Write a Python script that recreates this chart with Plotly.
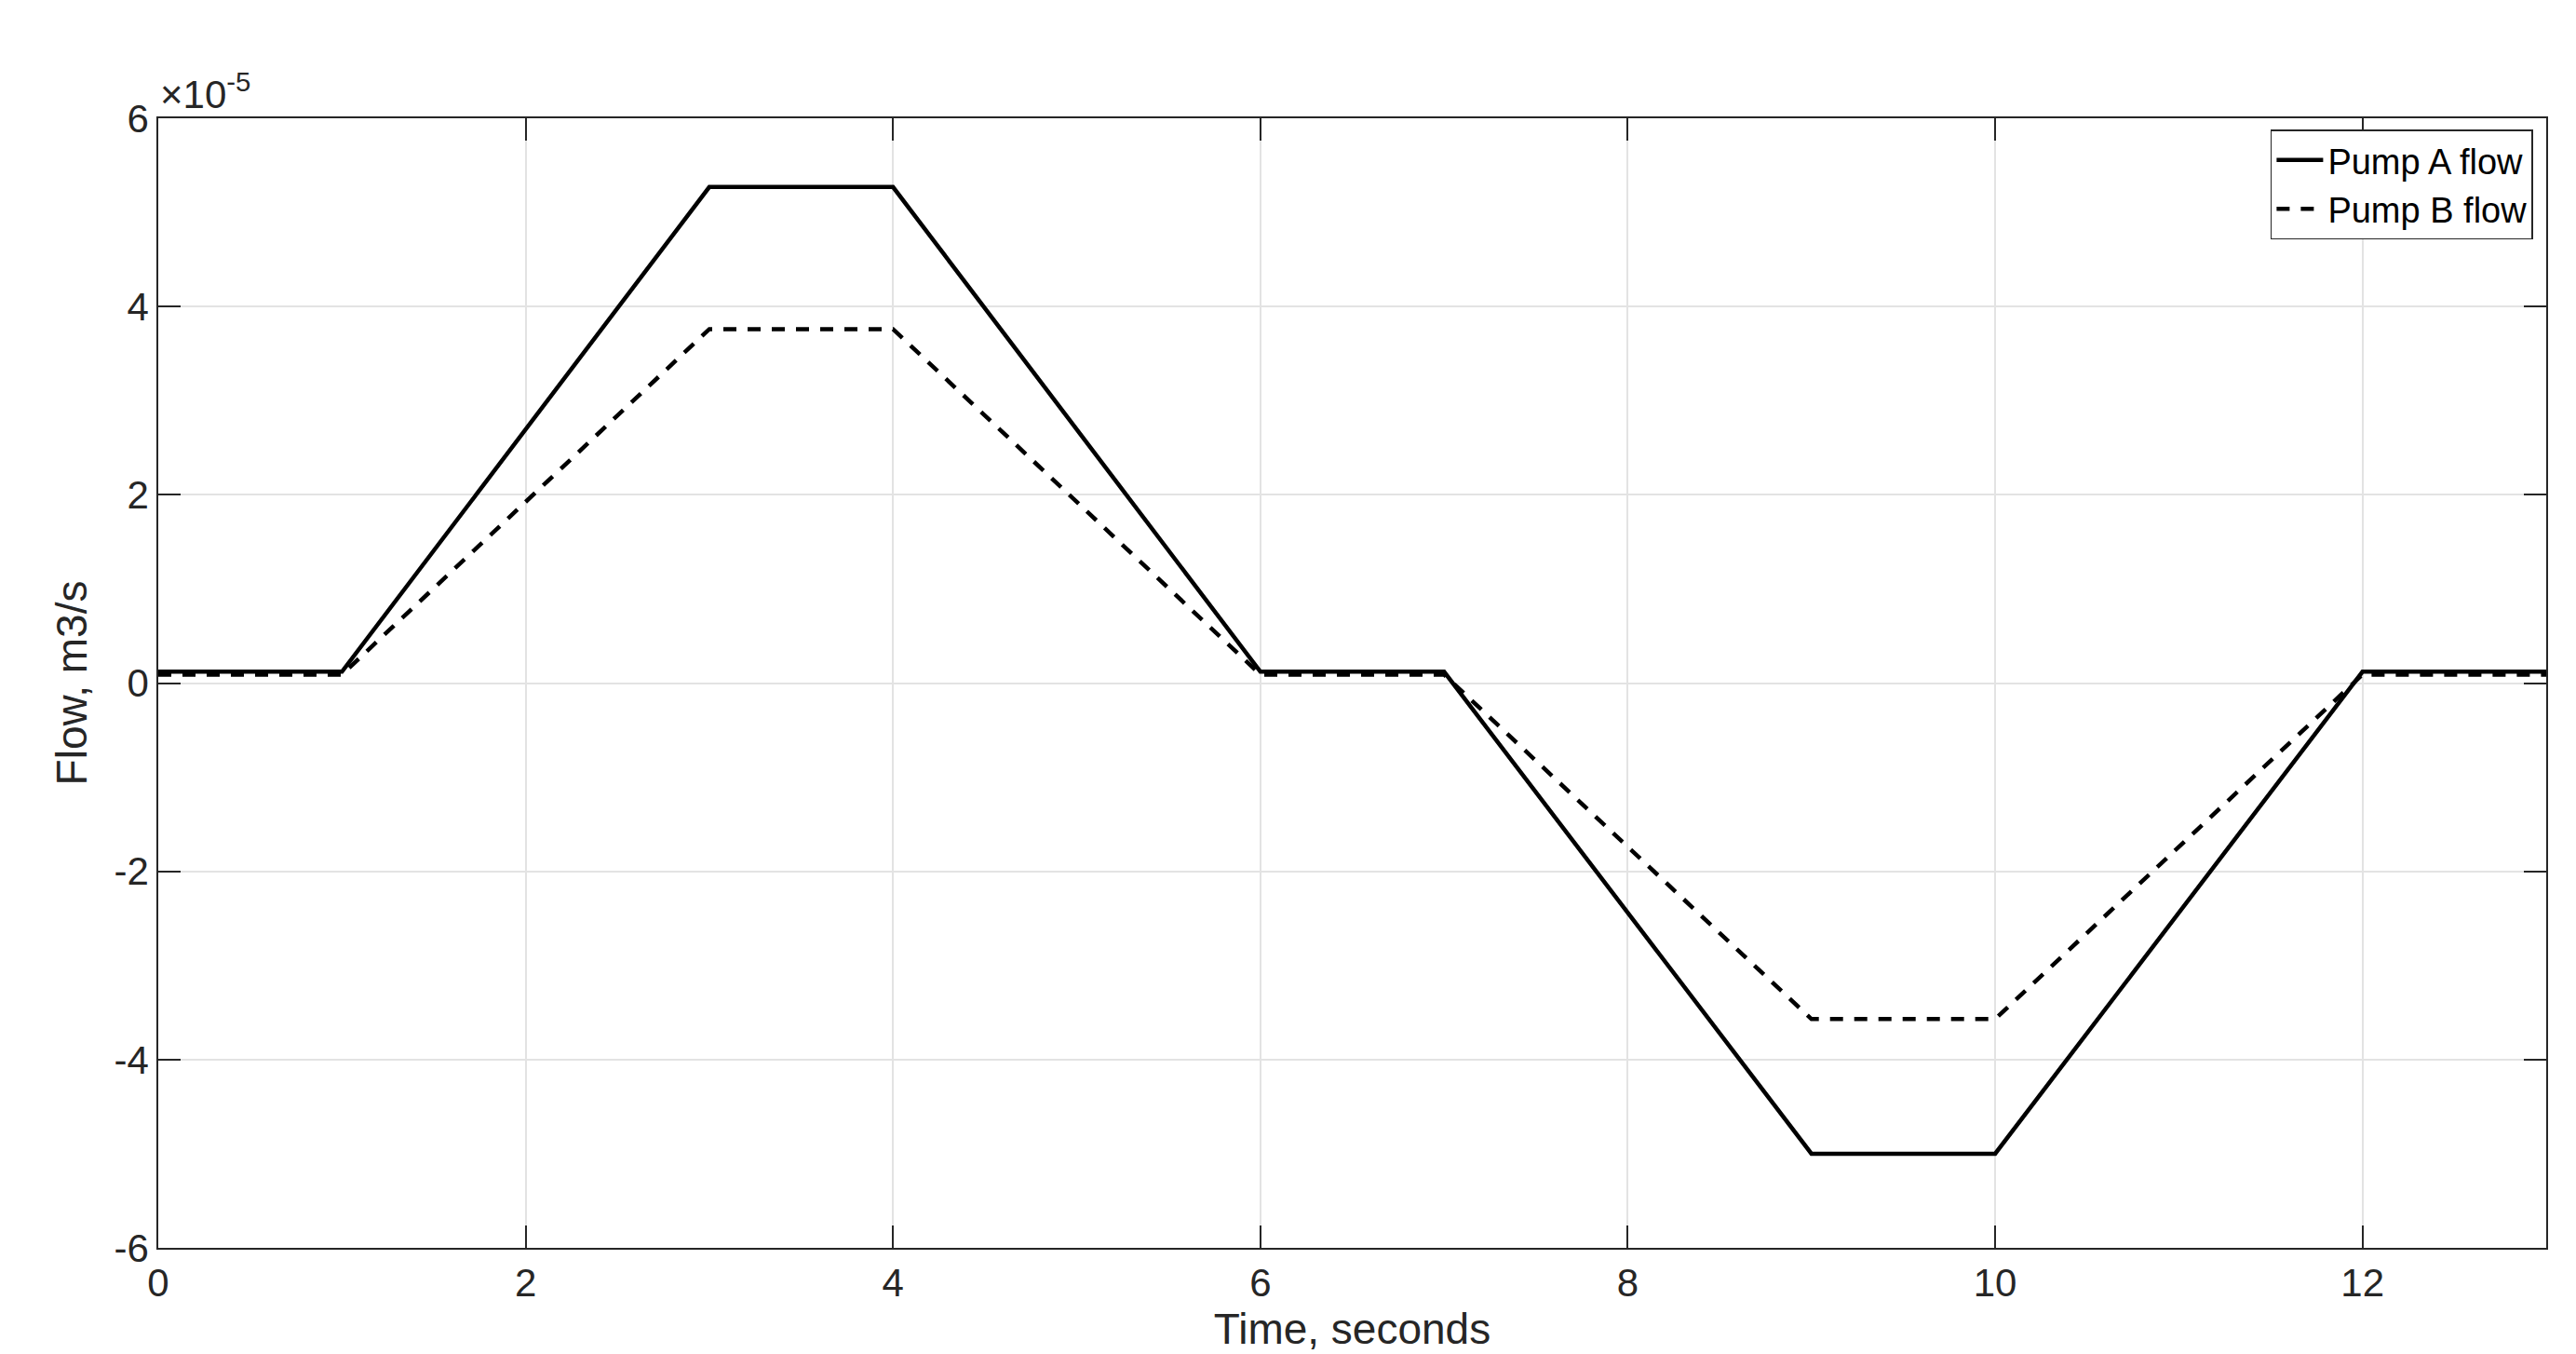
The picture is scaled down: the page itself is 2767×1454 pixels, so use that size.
import plotly.graph_objects as go

time_s = [0, 1, 3, 4, 6, 7, 9, 10, 12, 13]
pump_a_flow = [1.2e-6, 1.2e-6, 5.27e-5, 5.27e-5, 1.2e-6, 1.2e-6, -5.0e-5, -5.0e-5, 1.2e-6, 1.2e-6]
pump_b_flow = [0.9e-6, 0.9e-6, 3.76e-5, 3.76e-5, 0.9e-6, 0.9e-6, -3.57e-5, -3.57e-5, 0.9e-6, 0.9e-6]

x_ticks = [0, 2, 4, 6, 8, 10, 12]
y_ticks = [-6e-5, -4e-5, -2e-5, 0, 2e-5, 4e-5, 6e-5]
y_tick_labels = ["-6", "-4", "-2", "0", "2", "4", "6"]

FONT = "Liberation Sans, Arial, sans-serif"
AX = "#262626"

fig = go.Figure()
fig.add_trace(go.Scatter(x=time_s, y=pump_a_flow, mode="lines", name="Pump A flow",
                         line=dict(color="black", width=4.5)))
fig.add_trace(go.Scatter(x=time_s, y=pump_b_flow, mode="lines", name="Pump B flow",
                         line=dict(color="black", width=4.5, dash="14px,12px")))

axis_common = dict(showline=True, linecolor=AX, linewidth=1.5, mirror="allticks",
                   ticks="inside", ticklen=24, tickwidth=1.5, tickcolor=AX,
                   showgrid=True, gridcolor="#e3e3e3", gridwidth=1.5, zeroline=False,
                   tickfont=dict(family=FONT, size=42, color=AX))

fig.update_xaxes(range=[0, 13], tickvals=x_ticks, ticktext=[str(v) for v in x_ticks],
                 title=dict(text="Time, seconds", font=dict(family=FONT, size=46, color=AX), standoff=4),
                 **axis_common)
fig.update_yaxes(range=[-6e-5, 6e-5], tickvals=y_ticks, ticktext=y_tick_labels,
                 title=dict(text="Flow, m3/s", font=dict(family=FONT, size=46, color=AX), standoff=14),
                 **axis_common)

fig.add_annotation(xref="paper", yref="paper", x=0, y=1.0, xanchor="left", yanchor="bottom",
                   text="×10<sup>-5</sup>", showarrow=False, xshift=0, yshift=0,
                   font=dict(family=FONT, size=42, color=AX))

fig.update_layout(
    width=2767, height=1454,
    margin=dict(l=162, r=40, t=119, b=122),
    plot_bgcolor="white", paper_bgcolor="white",
    showlegend=True,
    legend=dict(x=0.9945, y=0.99, xanchor="right", yanchor="top",
                bgcolor="white", bordercolor=AX, borderwidth=1.5,
                font=dict(family=FONT, size=38, color="black"),
                itemwidth=50, tracegroupgap=0),
)

fig.write_html("out.html")
